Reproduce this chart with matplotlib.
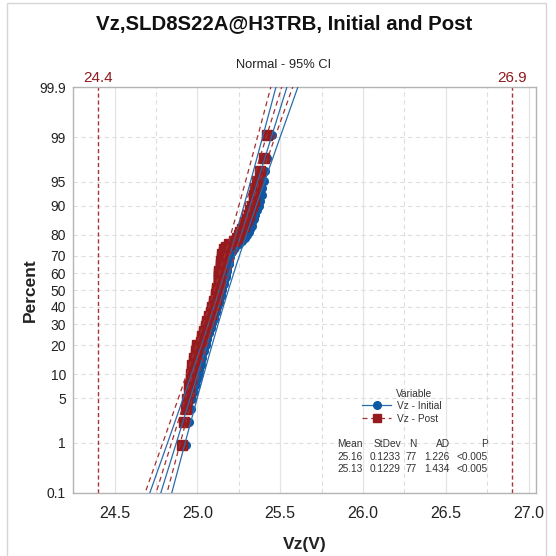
import numpy as np
import matplotlib
matplotlib.use("Agg")
import matplotlib.pyplot as plt
from matplotlib.lines import Line2D
from matplotlib.patches import Rectangle
from statistics import NormalDist

plt.rcParams['font.family'] = ['Liberation Sans', 'DejaVu Sans']

# sorted readings, 77 parts each
vz_initial = [24.93, 24.95, 24.96, 24.97, 24.98, 24.99, 25.00, 25.01, 25.01, 25.02,
              25.02, 25.03, 25.03, 25.04, 25.04, 25.05, 25.05, 25.06, 25.06, 25.07,
              25.07, 25.08, 25.08, 25.09, 25.09, 25.10, 25.10, 25.10, 25.11, 25.11,
              25.12, 25.12, 25.13, 25.13, 25.13, 25.14, 25.14, 25.14, 25.15, 25.15,
              25.15, 25.16, 25.16, 25.16, 25.17, 25.17, 25.17, 25.18, 25.18, 25.18,
              25.19, 25.19, 25.19, 25.20, 25.20, 25.21, 25.22, 25.23, 25.25, 25.27,
              25.29, 25.30, 25.31, 25.32, 25.33, 25.33, 25.34, 25.35, 25.36, 25.37,
              25.38, 25.39, 25.39, 25.40, 25.41, 25.42, 25.45]
vz_post = [24.91, 24.92, 24.93, 24.94, 24.95, 24.95, 24.96, 24.96, 24.97, 24.97,
           24.98, 24.98, 24.99, 24.99, 25.00, 25.00, 25.02, 25.03, 25.03, 25.04,
           25.04, 25.05, 25.05, 25.06, 25.06, 25.07, 25.07, 25.08, 25.08, 25.09,
           25.09, 25.10, 25.10, 25.10, 25.11, 25.11, 25.11, 25.12, 25.12, 25.12,
           25.13, 25.13, 25.13, 25.13, 25.13, 25.13, 25.13, 25.13, 25.14, 25.14,
           25.14, 25.14, 25.15, 25.15, 25.15, 25.16, 25.16, 25.17, 25.19, 25.22,
           25.24, 25.25, 25.26, 25.27, 25.28, 25.29, 25.30, 25.31, 25.32, 25.33,
           25.34, 25.34, 25.35, 25.36, 25.38, 25.40, 25.42]

series_names = ['Vz - Initial', 'Vz - Post']
means = [25.16, 25.13]
stdevs = [0.1233, 0.1229]
counts = [77, 77]
ad_values = ['1.226', '1.434']
p_values = ['<0.005', '<0.005']
spec_limits = [24.4, 26.9]
pct_ticks = [0.1, 1, 5, 10, 20, 30, 40, 50, 60, 70, 80, 90, 95, 99, 99.9]
x_ticks = [24.5, 25.0, 25.5, 26.0, 26.5, 27.0]

BLUE = '#0E58A4'
BLUE_LN = '#2A6CAB'
RED = '#951B1E'
RED_LN = '#A33033'
SPEC = '#A83236'
TXT = '#222222'

nd = NormalDist()
W = 556.0


def fx(px):
    return px / W


def fy(py):
    return 1 - py / W


fig = plt.figure(figsize=(5.56, 5.56), dpi=100)
fig.patches.append(Rectangle((fx(7), fy(560)), fx(546) - fx(7), fy(3.5) - fy(560),
                             transform=fig.transFigure, fill=False,
                             edgecolor='#D6D6D6', lw=1))
ax = fig.add_axes([fx(73), fy(493), fx(536) - fx(73), fy(87) - fy(493)])

zlim = nd.inv_cdf(0.999)
ax.set_ylim(-zlim, zlim)
ax.set_xlim(24.249, 27.045)

# probability points (median ranks) and fitted lines with 95% CI
zgrid = np.linspace(-3.3, 3.3, 200)
styles = [dict(color=BLUE, marker='o', ms=5.5, ls='none'),
          dict(color=RED, marker='s', ms=6.5, ls='none')]
line_styles = [dict(color=BLUE_LN, lw=0.9, ls='-'),
               dict(color=RED_LN, lw=0.9, ls=(0, (4, 3)))]
for data, st in zip([vz_initial, vz_post], styles):
    vals = np.sort(np.array(data))
    k = len(vals)
    z = np.array([nd.inv_cdf((i - 0.3) / (k + 0.4)) for i in range(1, k + 1)])
    ax.plot(vals, z, mec=st['color'], zorder=3, **st)
for mu, sd, n, lst in zip(means, stdevs, counts, line_styles):
    fit = mu + sd * zgrid
    half = 1.96 * sd * np.sqrt((1 + zgrid ** 2 / 2) / n)
    ax.plot(fit, zgrid, zorder=4, **lst)
    ax.plot(fit - half, zgrid, zorder=4, **lst)
    ax.plot(fit + half, zgrid, zorder=4, **lst)

for s in spec_limits:
    ax.axvline(s, color=SPEC, lw=1, ls=(0, (3, 2)), zorder=2)
    ax.text(s, 1.005, f'{s:.1f}', transform=ax.get_xaxis_transform(),
            ha='center', va='bottom', fontsize=11, color='#8E1B1F')

ax.set_yticks([nd.inv_cdf(p / 100) for p in pct_ticks])
ax.set_yticklabels([f'{p:g}' for p in pct_ticks])
ax.set_xticks(x_ticks)
ax.set_xticklabels([f'{t:.1f}' for t in x_ticks])
ax.set_xticks([t + 0.25 for t in x_ticks[:-1]], minor=True)
ax.tick_params(axis='both', which='both', length=0)
ax.tick_params(axis='y', labelsize=10, pad=5, labelcolor=TXT)
ax.tick_params(axis='x', labelsize=11.5, pad=9, labelcolor=TXT)
ax.grid(axis='x', which='major', color='#E4E4E4', lw=0.9, ls='-')
ax.grid(axis='x', which='minor', color='#DEDEDE', lw=0.8, ls=(0, (4, 3)))
ax.grid(axis='y', which='major', color='#DEDEDE', lw=0.8, ls=(0, (4, 3)))
ax.set_axisbelow(True)
for sp in ax.spines.values():
    sp.set_color('#B4B4B4')
    sp.set_linewidth(1)

fig.text(fx(284), fy(29.5), 'Vz,SLD8S22A@H3TRB, Initial and Post', ha='center',
         va='baseline', fontsize=14.7, fontweight='bold', color='#111111')
fig.text(fx(284), fy(68.5), 'Normal - 95% CI', ha='center', va='baseline',
         fontsize=9.3, color=TXT)
fig.text(fx(304.5), fy(549), 'Vz(V)', ha='center', va='baseline', fontsize=12.5,
         fontweight='bold', color=TXT)
fig.text(fx(30), fy(290), 'Percent', ha='center', va='center', rotation=90,
         fontsize=12.5, fontweight='bold', color=TXT)

# legend
handles = [Line2D([], [], color=BLUE_LN, lw=0.9, marker='o', ms=5.5, mfc=BLUE, mec=BLUE),
           Line2D([], [], color=RED_LN, lw=0.9, ls=(0, (4, 3)), marker='s', ms=6,
                  mfc=RED, mec=RED)]
fig.text(fx(396), fy(397), 'Variable', ha='left', va='baseline', fontsize=7.3, color='#333333')
leg = ax.legend(handles, series_names, loc='upper left',
                bbox_to_anchor=(fx(362), fy(401)), bbox_transform=fig.transFigure,
                frameon=False, fontsize=7.3, handlelength=2.9, handletextpad=0.6,
                labelspacing=0.3, borderpad=0, borderaxespad=0, numpoints=1)
for t in leg.get_texts():
    t.set_color('#333333')

# stats table
col_right = [363, 401, 417, 450, 488]
headers = ['Mean', 'StDev', 'N', 'AD', 'P']
rows = [[f'{m:.2f}', f'{s:.4f}', f'{n}', a, p]
        for m, s, n, a, p in zip(means, stdevs, counts, ad_values, p_values)]
for cx, h in zip(col_right, headers):
    fig.text(fx(cx), fy(447), h, ha='right', va='baseline', fontsize=7.3, color='#333333')
for r, yb in zip(rows, [460, 472.5]):
    for cx, cell in zip(col_right, r):
        fig.text(fx(cx), fy(yb), cell, ha='right', va='baseline', fontsize=7.3,
                 color='#333333')

fig.savefig('out.png', dpi=100)
